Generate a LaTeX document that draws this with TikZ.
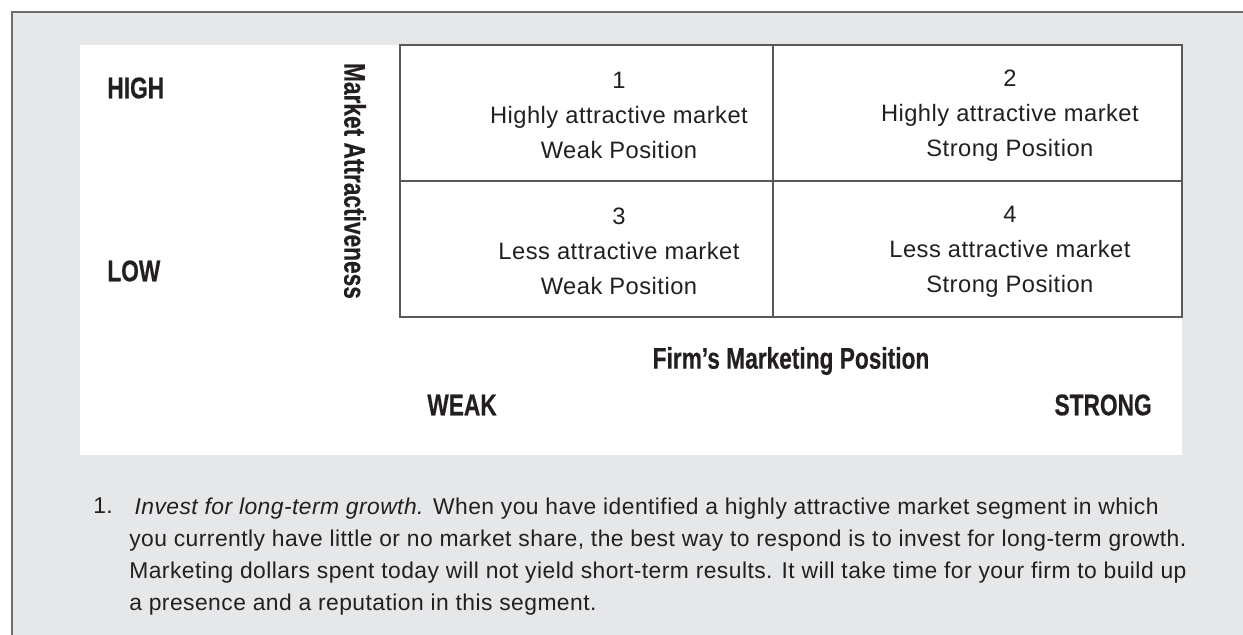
\documentclass[tikz,border=0pt]{standalone}
\usepackage{fontspec}
\setmainfont{Liberation Sans}[LetterSpace=2]
\newfontfamily\narrowbf{Liberation Sans}[FakeStretch=0.76, FakeBold=0.4]
\usetikzlibrary{positioning}

\definecolor{panelgray}{HTML}{E6E7E8}
\definecolor{framegray}{HTML}{6D6E70}
\definecolor{gridgray}{HTML}{58595B}
\definecolor{ink}{HTML}{231F20}

\tikzset{
  cell/.style={draw=gridgray, line width=0.9pt, inner sep=0pt, outer sep=0pt,
    minimum height=2.72cm},
  celltext/.style={inner sep=0pt, align=center, text=ink,
    font=\fontsize{13.5}{19.8}\selectfont},
  axislabel/.style={inner sep=0pt, text=ink,
    font=\narrowbf\bfseries\fontsize{17}{20}\selectfont},
  note/.style={inner sep=0pt, align=left, text=ink,
    font=\fontsize{13}{18.2}\selectfont}
}

\begin{document}
\begin{tikzpicture}[x=0.02cm, y=-0.02cm]
  \useasboundingbox (0,0) rectangle (1243,635);
  % Panel and frame
  \fill[panelgray] (12,12) rectangle (1243,635);
  \draw[framegray, line width=1.1pt] (12,635) -- (12,12) -- (1243,12);
  \fill[white] (80,45) rectangle (1182,455);

  % Matrix cells
  \node[cell, minimum width=7.46cm, anchor=north west] (c1) at (400,45) {};
  \node[cell, minimum width=8.18cm, right=0pt of c1] (c2) {};
  \node[cell, minimum width=7.46cm, below=0pt of c1] (c3) {};
  \node[cell, minimum width=8.18cm, below=0pt of c2] (c4) {};

  % Cell texts, set a little right of centre
  \node[celltext] (t1) at ([xshift=18.5pt, yshift=-1.5pt]c1.center)
    {1\\Highly attractive market\\Weak Position};
  \node[celltext] (t2) at ([xshift=18.5pt, yshift=-1.5pt]c2.center)
    {2\\Highly attractive market\\Strong Position};
  \node[celltext] (t3) at ([xshift=18.5pt, yshift=-1.5pt]c3.center)
    {3\\Less attractive market\\Weak Position};
  \node[celltext] (t4) at ([xshift=18.5pt, yshift=-1.5pt]c4.center)
    {4\\Less attractive market\\Strong Position};

  % Axis labels
  \node[axislabel, anchor=west] (high) at (107,88) {HIGH};
  \node[axislabel, anchor=west] (low) at (107,271) {LOW};
  \node[axislabel, rotate=-90] (attract) at (355,181) {Market Attractiveness};
  \node[axislabel] (firmpos) at (791,361) {Firm’s Marketing Position};
  \node[axislabel, anchor=west] (weak) at (427,405) {WEAK};
  \node[axislabel, anchor=east] (strong) at (1152,405) {STRONG};

  % Explanation below the matrix (base = last line)
  \node[note, anchor=base west] (num) at (93,513) {1.};
  \node[note, anchor=base west] (expl) at (129,610)
    {\hspace{3pt}\textit{Invest for long-term growth.} When you have identified a highly attractive market segment in which\\
     you currently have little or no market share, the best way to respond is to invest for long-term growth.\\
     Marketing dollars spent today will not yield short-term results. It will take time for your firm to build up\\
     a presence and a reputation in this segment.};
\end{tikzpicture}
\end{document}
